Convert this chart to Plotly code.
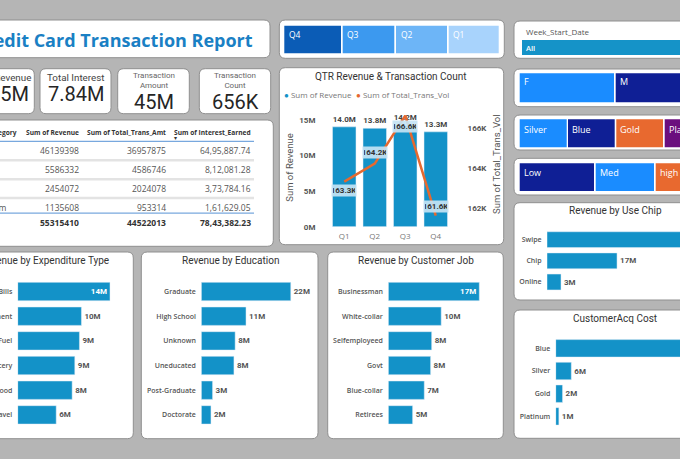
import plotly.graph_objects as go

W, H = 680, 459
ROB = "Roboto"
SANS = "Open Sans"
BAR = "#1392c8"
ORANGE = "#e5692f"

# ---------------- data ----------------
quarters = ["Q1", "Q2", "Q3", "Q4"]
qtr_revenue = [14.0e6, 13.8e6, 14.2e6, 13.3e6]
qtr_trans_vol = [163300, 164200, 166600, 161600]

exp_types = ["Bills", "Entertainment", "Fuel", "Grocery", "Food", "Travel"]
exp_revenue = [13.9e6, 9.6e6, 9.3e6, 8.6e6, 8.2e6, 5.8e6]

edu_levels = ["Graduate", "High School", "Unknown", "Uneducated", "Post-Graduate", "Doctorate"]
edu_revenue = [22.2e6, 11.1e6, 8.4e6, 8.1e6, 2.8e6, 2.4e6]

jobs = ["Businessman", "White-collar", "Selfemployeed", "Govt", "Blue-collar", "Retirees"]
job_revenue = [17.2e6, 10.0e6, 8.2e6, 8.0e6, 6.8e6, 4.6e6]

chip_types = ["Swipe", "Chip", "Online"]
chip_revenue = [34.9e6, 17.0e6, 3.4e6]

card_categories = ["Blue", "Silver", "Gold", "Platinum"]
card_revenue = [46139398, 5586332, 2454072, 1135608]
card_trans_amt = [36957875, 4586746, 2024078, 953314]
card_interest = [6495887.74, 812081.28, 373784.16, 161629.05]
total_revenue = 55315410
total_trans_amt = 44522013
total_interest = 7843382.23

kpi_titles = ["Total Revenue", "Total Interest", "Transaction<br>Amount", "Transaction<br>Count"]
kpi_values = ["55M", "7.84M", "45M", "656K"]

table_headers = ["Card_Category", "Sum of Revenue", "Sum of Total_Trans_Amt", "Sum of Interest_Earned"]

quarter_slicer = ["Q4", "Q3", "Q2", "Q1"]
gender_slicer = ["F", "M"]
card_slicer = ["Silver", "Blue", "Gold", "Platinum"]
income_slicer = ["Low", "Med", "high"]


# ---------------- helpers ----------------
def X(p):
    return p / W


def Y(p):
    return 1 - p / H


shapes, annotations = [], []


def panel(x0, y0, x1, y1, r=6, fill="white", line="#8f8f8f", lw=1):
    path = (f"M {X(x0 + r)},{Y(y0)} L {X(x1 - r)},{Y(y0)} Q {X(x1)},{Y(y0)} {X(x1)},{Y(y0 + r)} "
            f"L {X(x1)},{Y(y1 - r)} Q {X(x1)},{Y(y1)} {X(x1 - r)},{Y(y1)} "
            f"L {X(x0 + r)},{Y(y1)} Q {X(x0)},{Y(y1)} {X(x0)},{Y(y1 - r)} "
            f"L {X(x0)},{Y(y0 + r)} Q {X(x0)},{Y(y0)} {X(x0 + r)},{Y(y0)} Z")
    shapes.append(dict(type="path", path=path, xref="paper", yref="paper", fillcolor=fill,
                       line=dict(color=line, width=lw), layer="below"))


def box(x0, y0, x1, y1, fill):
    shapes.append(dict(type="rect", xref="paper", yref="paper", x0=X(x0), x1=X(x1), y0=Y(y1), y1=Y(y0),
                       fillcolor=fill, line=dict(width=0), layer="below"))


def hline(x0, x1, y, color, w):
    shapes.append(dict(type="line", xref="paper", yref="paper", x0=X(x0), x1=X(x1), y0=Y(y), y1=Y(y),
                       line=dict(color=color, width=w), layer="below"))


def txt(x, y, s, size=8, color="#555", family=ROB, weight=400, xanchor="center", yanchor="middle", angle=0):
    annotations.append(dict(x=X(x), y=Y(y), xref="paper", yref="paper", text=s, showarrow=False,
                            xanchor=xanchor, yanchor=yanchor, textangle=angle,
                            font=dict(size=size, color=color, family=family, weight=weight)))


def indian(v):
    s = f"{v:.2f}"
    ip, dec = s.split(".")
    last3, rest = ip[-3:], ip[:-3]
    groups = []
    while len(rest) > 2:
        groups.insert(0, rest[-2:])
        rest = rest[:-2]
    if rest:
        groups.insert(0, rest)
    return ",".join(groups + [last3]) + "." + dec


# ---------------- panels ----------------
panel(-60, 20, 270, 57.7)                       # title
panel(279.3, 20, 504.3, 58.3)                   # quarter slicer
panel(514, 21, 700, 58.3)                       # week slicer
panel(514, 69, 700, 106.7)                      # gender slicer
panel(514, 115, 700, 150)                       # card slicer
panel(514, 158.3, 700, 195)                     # income slicer
panel(514, 202.7, 700, 300)                     # use chip
panel(514, 310, 700, 438.3)                     # customer acq
kpi_boxes = [(-40, 34.3), (40, 111), (117.7, 189.3), (199.3, 270.7)]
for (a, b) in kpi_boxes:
    panel(a, 68.7, b, 113.7)
panel(-60, 120, 273.3, 246.3)                   # table
panel(279.3, 67.7, 503.7, 244.7)                # QTR chart
panel(-60, 252, 133.3, 438.7)                   # expenditure
panel(141.3, 252, 318, 438.7)                   # education
panel(327.7, 252, 503.3, 438.7)                 # job

# ---------------- title ----------------
txt(255, 40, "Credit Card Transaction Report", size=18, color="#1a80c4", family=SANS, weight=700, xanchor="right")

# ---------------- KPI cards ----------------
kpi_title_x = [33, 75.5, 153.5, 235]
kpi_value_x = [31, 75.5, 153.5, 235]
for i, (t, v) in enumerate(zip(kpi_titles, kpi_values)):
    if "<br>" in t:
        txt(kpi_title_x[i], 80, t, size=8, color="#666", family=ROB)
        txt(kpi_value_x[i], 102, v, size=20, color="#252525", family=ROB)
    else:
        anc = "right" if i == 0 else "center"
        txt(kpi_title_x[i], 77, t, size=9.8, color="#444", family=ROB, xanchor=anc)
        txt(kpi_value_x[i], 93.5, v, size=20, color="#252525", family=ROB, xanchor=anc)

# ---------------- slicers ----------------
q_cols = ["#0b5cb6", "#3c99ef", "#6db5f7", "#a8d3fc"]
q_x = [(284.3, 341), (342.7, 394.3), (396, 447), (448.7, 498.7)]
for lab, c, (a, b) in zip(quarter_slicer, q_cols, q_x):
    box(a, 25.7, b, 53.3, c)
    txt(a + 2.5, 34, lab, size=8.5, color="white", family=SANS, xanchor="left")

txt(524, 31, "Week_Start_Date", size=8, color="#555", family=SANS, xanchor="left")
box(522, 40, 700, 55, "#1593c8")
txt(524, 47.5, "All", size=7.5, color="white", family=SANS, weight=600, xanchor="left")

g_cols = ["#1a8cff", "#0f1f95"]
g_x = [(519.7, 614), (615.7, 700)]
for lab, c, (a, b) in zip(gender_slicer, g_cols, g_x):
    box(a, 73.3, b, 102.3, c)
    txt(a + 2.5, 82, lab, size=9, color="white", family=SANS, xanchor="left")

c_cols = ["#1a8cff", "#0f1f95", "#e8692f", "#6b0e7e"]
c_x = [(519.7, 566.7), (568, 614.7), (616.3, 663), (664.7, 720)]
for lab, c, (a, b) in zip(card_slicer, c_cols, c_x):
    box(a, 119.3, b, 147.3, c)
    txt(a + 2, 129, lab, size=9, color="white", family=SANS, xanchor="left")

i_cols = ["#0f1f95", "#1a8cff", "#e8692f"]
i_x = [(519.7, 594), (595.7, 654), (655.7, 700)]
for lab, c, (a, b) in zip(income_slicer, i_cols, i_x):
    box(a, 163.3, b, 191, c)
    txt(a + 2, 172.3, lab, size=9, color="white", family=SANS, xanchor="left")

# ---------------- table ----------------
col_right = [19, 81, 167.7, 252.7]
for j in range(4):
    txt(col_right[j], 132, table_headers[j], size=6.6, color="#333", family=SANS, weight=700, xanchor="right")
txt(175.5, 137.8, "▾", size=6, color="#333", family=SANS)
hline(-60, 254, 141.3, "#78a8de", 1.3)
row_y = [150.7, 169.7, 188.7, 207.5]
for k, ry in enumerate(row_y):
    txt(-31, ry, card_categories[k], size=8.5, color="#555", family=SANS, xanchor="left")
    txt(col_right[1], ry, str(card_revenue[k]), size=8.5, color="#555", family=SANS, xanchor="right")
    txt(col_right[2], ry, str(card_trans_amt[k]), size=8.5, color="#555", family=SANS, xanchor="right")
    txt(col_right[3], ry, indian(card_interest[k]), size=8.5, color="#555", family=SANS, xanchor="right")
for sy in [160.2, 179.2, 198.1]:
    hline(-60, 254, sy, "#e3e3e3", 2.5)
hline(-60, 254, 213.2, "#78a8de", 1.3)
txt(-40, 222.3, "Total", size=8.5, color="#333", family=SANS, weight=700, xanchor="left")
txt(col_right[1], 222.3, str(total_revenue), size=8.5, color="#333", family=SANS, weight=700, xanchor="right")
txt(col_right[2], 222.3, str(total_trans_amt), size=8.5, color="#333", family=SANS, weight=700, xanchor="right")
txt(col_right[3], 222.3, indian(total_interest), size=8.5, color="#333", family=SANS, weight=700, xanchor="right")

# ---------------- chart titles ----------------
txt(391.5, 76.7, "QTR Revenue & Transaction Count", size=10, color="#333", family=ROB)
txt(111, 260.3, "Revenue by Expenditure Type", size=10, color="#333", family=ROB, xanchor="right")
txt(230.3, 260.3, "Revenue by Education", size=10, color="#333", family=ROB)
txt(415.7, 260.3, "Revenue by Customer Job", size=10, color="#333", family=ROB)
txt(615.3, 210.7, "Revenue by Use Chip", size=10, color="#333", family=ROB)
txt(614.7, 318.3, "CustomerAcq Cost", size=10, color="#333", family=ROB)

# legend for QTR
txt(281.5, 94.3, f"<span style='color:{BAR}'>●</span> Sum of Revenue", size=8, color="#777", family=SANS, xanchor="left")
txt(353.5, 94.3, f"<span style='color:{ORANGE}'>●</span> Sum of Total_Trans_Vol", size=8, color="#777", family=SANS, xanchor="left")
txt(288.7, 167, "Sum of Revenue", size=9.5, color="#555", family=ROB, angle=-90)
txt(496, 165, "Sum of Total_Trans_Vol", size=9.5, color="#555", family=ROB, angle=-90)

# ---------------- figure ----------------
fig = go.Figure()

fig.add_trace(go.Bar(
    x=quarters, y=qtr_revenue, marker_color=BAR, width=0.77,
    text=[f"{v / 1e6:.1f}M" for v in qtr_revenue], textposition="outside",
    textfont=dict(size=8, color="#444", family=ROB, weight=700), cliponaxis=False,
    constraintext="none", xaxis="x", yaxis="y", showlegend=False, name="Sum of Revenue"))
fig.add_trace(go.Scatter(
    x=quarters, y=qtr_trans_vol, mode="lines", line=dict(color=ORANGE, width=2.5),
    xaxis="x", yaxis="y2", showlegend=False, name="Sum of Total_Trans_Vol"))

label_shift = [-9, 11, -11, 9]
for q, v, s in zip(quarters, qtr_trans_vol, label_shift):
    annotations.append(dict(x=q, y=v, xref="x", yref="y2", text=f"{v / 1000:.1f}K", showarrow=False,
                            yshift=s, bgcolor="rgba(196,228,244,0.92)", width=22, height=9,
                            font=dict(size=8, color="#333", family=ROB, weight=700)))

AX = {}


def hax(start, end, ppm):
    return dict(domain=[X(start), X(end)], range=[0, (end - start) / ppm * 1e6], visible=False,
                showgrid=False, zeroline=False, fixedrange=True, automargin=False)


def hbar(cats, vals, ax, xaxis_cfg, inside=(), width=0.75):
    rmax = xaxis_cfg["range"][1]
    texts = [f"{v / 1e6:.0f}M" if v < rmax else "" for v in vals]
    pos = ["inside" if i in inside else "outside" for i in range(len(vals))]
    AX[ax] = xaxis_cfg
    fig.add_trace(go.Bar(
        y=cats, x=vals, orientation="h", marker_color=BAR, width=width,
        text=texts, textposition=pos, insidetextanchor="end",
        insidetextfont=dict(size=8, color="white", family=ROB, weight=700),
        outsidetextfont=dict(size=8, color="#555", family=ROB, weight=700),
        constraintext="none", cliponaxis=True, xaxis=f"x{ax}", yaxis=f"y{ax}", showlegend=False))


hbar(exp_types, exp_revenue, 3, hax(17.7, 130, 6.64), inside=(0,), width=0.745)
hbar(edu_levels, edu_revenue, 4, hax(201.3, 315, 4.03), width=0.745)
hbar(jobs, job_revenue, 5, hax(388.3, 500, 5.29), inside=(0,), width=0.745)
hbar(chip_types, chip_revenue, 6, hax(547, 680, 4.12), width=0.75)
hbar(card_categories, card_revenue, 7, hax(555.7, 680, 2.79), width=0.77)

cat_font = dict(size=7, color="#555", family=SANS, weight=600)


def vax(top, bottom, anchor):
    return dict(domain=[Y(bottom), Y(top)], type="category", autorange="reversed", anchor=anchor,
                showgrid=False, zeroline=False, showline=False, ticks="outside", ticklen=3,
                tickcolor="rgba(0,0,0,0)", tickfont=cat_font, automargin=False)


layout = dict(
    width=W, height=H, margin=dict(l=0, r=0, t=0, b=0, pad=0, autoexpand=False),
    paper_bgcolor="#b5b5b5", plot_bgcolor="rgba(0,0,0,0)",
    showlegend=False,
    xaxis=dict(domain=[X(329), X(451)], anchor="y", showgrid=False, zeroline=False, showline=False,
               tickfont=dict(size=8, color="#777", family=SANS), ticks="outside", ticklen=2,
               tickcolor="rgba(0,0,0,0)", automargin=False),
    yaxis=dict(domain=[Y(226.7), Y(112.6)], range=[0, 16e6], anchor="x", showgrid=False, zeroline=False,
               tickvals=[0, 5e6, 10e6, 15e6], ticktext=["0M", "5M", "10M", "15M"],
               tickfont=dict(size=8, color="#555", family=ROB, weight=700), ticks="outside", ticklen=11,
               tickcolor="rgba(0,0,0,0)", automargin=False),
    yaxis2=dict(overlaying="y", side="right", anchor="x", range=[161050, 166755], showgrid=False,
                zeroline=False, tickvals=[162000, 164000, 166000], ticktext=["162K", "164K", "166K"],
                tickfont=dict(size=8, color="#555", family=ROB, weight=700), ticks="outside", ticklen=14,
                tickcolor="rgba(0,0,0,0)", automargin=False),
    yaxis3=vax(279.2, 427.2, "x3"),
    yaxis4=vax(279.2, 427.2, "x4"),
    yaxis5=vax(279.2, 427.2, "x5"),
    yaxis6=vax(229.1, 292.6, "x6"),
    yaxis7=vax(337, 427.7, "x7"),
    shapes=shapes, annotations=annotations,
)
for k, cfg in AX.items():
    cfg["anchor"] = f"y{k}"
    layout[f"xaxis{k}"] = cfg
fig.update_layout(**layout)

fig.write_html("out.html")
